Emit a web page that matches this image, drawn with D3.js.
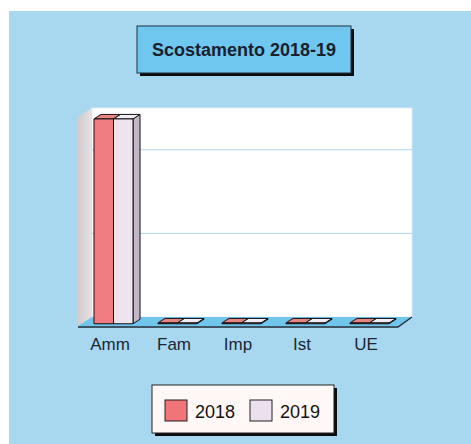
<!DOCTYPE html>
<html>
<head>
<meta charset="utf-8">
<script src="https://cdn.jsdelivr.net/npm/d3@7"></script>
<style>
  html, body { margin: 0; padding: 0; background: #ffffff; }
  svg { display: block; font-family: "Liberation Sans", Arial, sans-serif; }
</style>
</head>
<body>
<svg id="chart" width="471" height="444"></svg>
<script>
// Chart data
const categories = ["Amm", "Fam", "Imp", "Ist", "UE"];
const seriesNames = ["2018", "2019"];
const values2018 = [245, 1, 1, 1, 1];
const values2019 = [245, 1, 1, 1, 1];
const titleText = "Scostamento 2018-19";

const seriesValues = [values2018, values2019];
const seriesFront = ["#f07b80", "#ede4ee"];
const seriesTop = ["#e9857f", "#f3ecf3"];
const seriesSide = ["#c4666b", "#c3b6c6"];

const svg = d3.select("#chart");

// Background panel
svg.append("rect").attr("x", 9).attr("y", 11).attr("width", 462).attr("height", 433)
  .attr("fill", "#a8d8f0");

// 3D plot geometry: front plane and depth offset
const frontLeft = 78, frontRight = 398, floorY = 326;
const DX = 14, DY = -9;
const wallHeight = 209;

const x0 = d3.scaleBand().domain(categories).range([frontLeft, frontRight])
  .paddingInner(0.39).paddingOuter(0.195);
const x1 = d3.scaleBand().domain(seriesNames).range([0, x0.bandwidth()]);
const y = d3.scaleLinear().domain([0, 250]).range([0, wallHeight]);

const backY0 = floorY + DY;

// Back wall
svg.append("rect")
  .attr("x", frontLeft + DX).attr("y", backY0 - y(250))
  .attr("width", frontRight - frontLeft).attr("height", y(250))
  .attr("fill", "#ffffff").attr("stroke", "#e6eef2").attr("stroke-width", 0.8);

// Grid lines on the back wall
svg.append("g").selectAll("line")
  .data(y.ticks(3).filter(d => d > 0))
  .join("line")
  .attr("x1", frontLeft + DX).attr("x2", frontRight + DX)
  .attr("y1", d => backY0 - y(d)).attr("y2", d => backY0 - y(d))
  .attr("stroke", "#a9d3ea").attr("stroke-width", 1);

// Left side wall
const leftGrad = svg.append("defs").append("linearGradient")
  .attr("id", "leftWall").attr("x1", "0").attr("x2", "1").attr("y1", "0").attr("y2", "0");
leftGrad.append("stop").attr("offset", "0%").attr("stop-color", "#d3cbcd");
leftGrad.append("stop").attr("offset", "100%").attr("stop-color", "#e6e1e3");
svg.append("polygon")
  .attr("points", [
    [frontLeft, floorY - y(250)], [frontLeft + DX, backY0 - y(250)],
    [frontLeft + DX, backY0], [frontLeft, floorY]
  ].map(p => p.join(",")).join(" "))
  .attr("fill", "url(#leftWall)");

// Floor
svg.append("polygon")
  .attr("points", [
    [frontLeft, floorY], [frontRight, floorY],
    [frontRight + DX, backY0], [frontLeft + DX, backY0]
  ].map(p => p.join(",")).join(" "))
  .attr("fill", "#6fc5ec");
svg.append("polyline")
  .attr("points", [[frontLeft, floorY + 1], [frontRight, floorY + 1], [frontRight + DX, backY0]]
    .map(p => p.join(",")).join(" "))
  .attr("fill", "none").attr("stroke", "#1d2a36").attr("stroke-width", 1.3);

// Bars: placed a quarter of the depth back, half the depth deep
const offX = DX * 0.25, offY = DY * 0.25;
const bdx = DX * 0.5, bdy = DY * 0.5;
const barBase = floorY + offY;

const bars = [];
categories.forEach((c, i) => {
  seriesNames.forEach((s, j) => {
    bars.push({ cat: c, series: j, value: seriesValues[j][i] });
  });
});

const barG = svg.append("g");
bars.forEach(b => {
  const xl = x0(b.cat) + x1(seriesNames[b.series]) + offX;
  const xr = xl + x1.bandwidth();
  const yt = barBase - y(b.value);
  const g = barG.append("g").attr("stroke", "#111").attr("stroke-width", 1).attr("stroke-linejoin", "round");
  // side face
  g.append("polygon")
    .attr("points", [[xr, yt], [xr + bdx, yt + bdy], [xr + bdx, barBase + bdy], [xr, barBase]]
      .map(p => p.join(",")).join(" "))
    .attr("fill", seriesSide[b.series]);
  // top face
  g.append("polygon")
    .attr("points", [[xl, yt], [xr, yt], [xr + bdx, yt + bdy], [xl + bdx, yt + bdy]]
      .map(p => p.join(",")).join(" "))
    .attr("fill", seriesTop[b.series]);
  // front face
  g.append("rect")
    .attr("x", xl).attr("y", yt)
    .attr("width", xr - xl).attr("height", barBase - yt)
    .attr("fill", seriesFront[b.series]);
});

// Category axis
const xAxis = svg.append("g")
  .attr("transform", `translate(0,${floorY})`)
  .call(d3.axisBottom(d3.scaleBand().domain(categories).range([frontLeft, frontRight]))
    .tickSize(0).tickPadding(12));
xAxis.select(".domain").remove();
xAxis.selectAll("text")
  .attr("font-size", 17).attr("fill", "#1c2630")
  .attr("font-family", "'Liberation Sans', Arial, sans-serif");

// Title box
const tb = { x: 137, y: 26, w: 214, h: 47 };
svg.append("rect").attr("x", tb.x + 3).attr("y", tb.y + 3).attr("width", tb.w).attr("height", tb.h)
  .attr("fill", "#0b0b10");
svg.append("rect").attr("x", tb.x).attr("y", tb.y).attr("width", tb.w).attr("height", tb.h)
  .attr("fill", "#6fc6ee").attr("stroke", "#233140").attr("stroke-width", 1);
svg.append("text").attr("x", tb.x + tb.w / 2).attr("y", tb.y + tb.h / 2 + 6.5)
  .attr("text-anchor", "middle").attr("font-size", 18).attr("font-weight", "bold")
  .attr("fill", "#1a1f2e").text(titleText);

// Legend
const lg = { x: 152, y: 385, w: 182, h: 48 };
svg.append("rect").attr("x", lg.x + 3).attr("y", lg.y + 3).attr("width", lg.w).attr("height", lg.h)
  .attr("fill", "#0b0b10");
svg.append("rect").attr("x", lg.x).attr("y", lg.y).attr("width", lg.w).attr("height", lg.h)
  .attr("fill", "#fff8f6").attr("stroke", "#222").attr("stroke-width", 1);
const legendSwatch = ["#f07478", "#ece0ee"];
const legendItems = svg.append("g").selectAll("g")
  .data(seriesNames)
  .join("g")
  .attr("transform", (d, i) => `translate(${lg.x + 13 + i * 85},${lg.y + 15})`);
legendItems.append("rect")
  .attr("width", 22).attr("height", 21)
  .attr("fill", (d, i) => legendSwatch[i]).attr("stroke", "#222").attr("stroke-width", 1);
legendItems.append("text")
  .attr("x", 30).attr("y", 17.5)
  .attr("font-size", 18).attr("fill", "#111")
  .text(d => d);
</script>
</body>
</html>
